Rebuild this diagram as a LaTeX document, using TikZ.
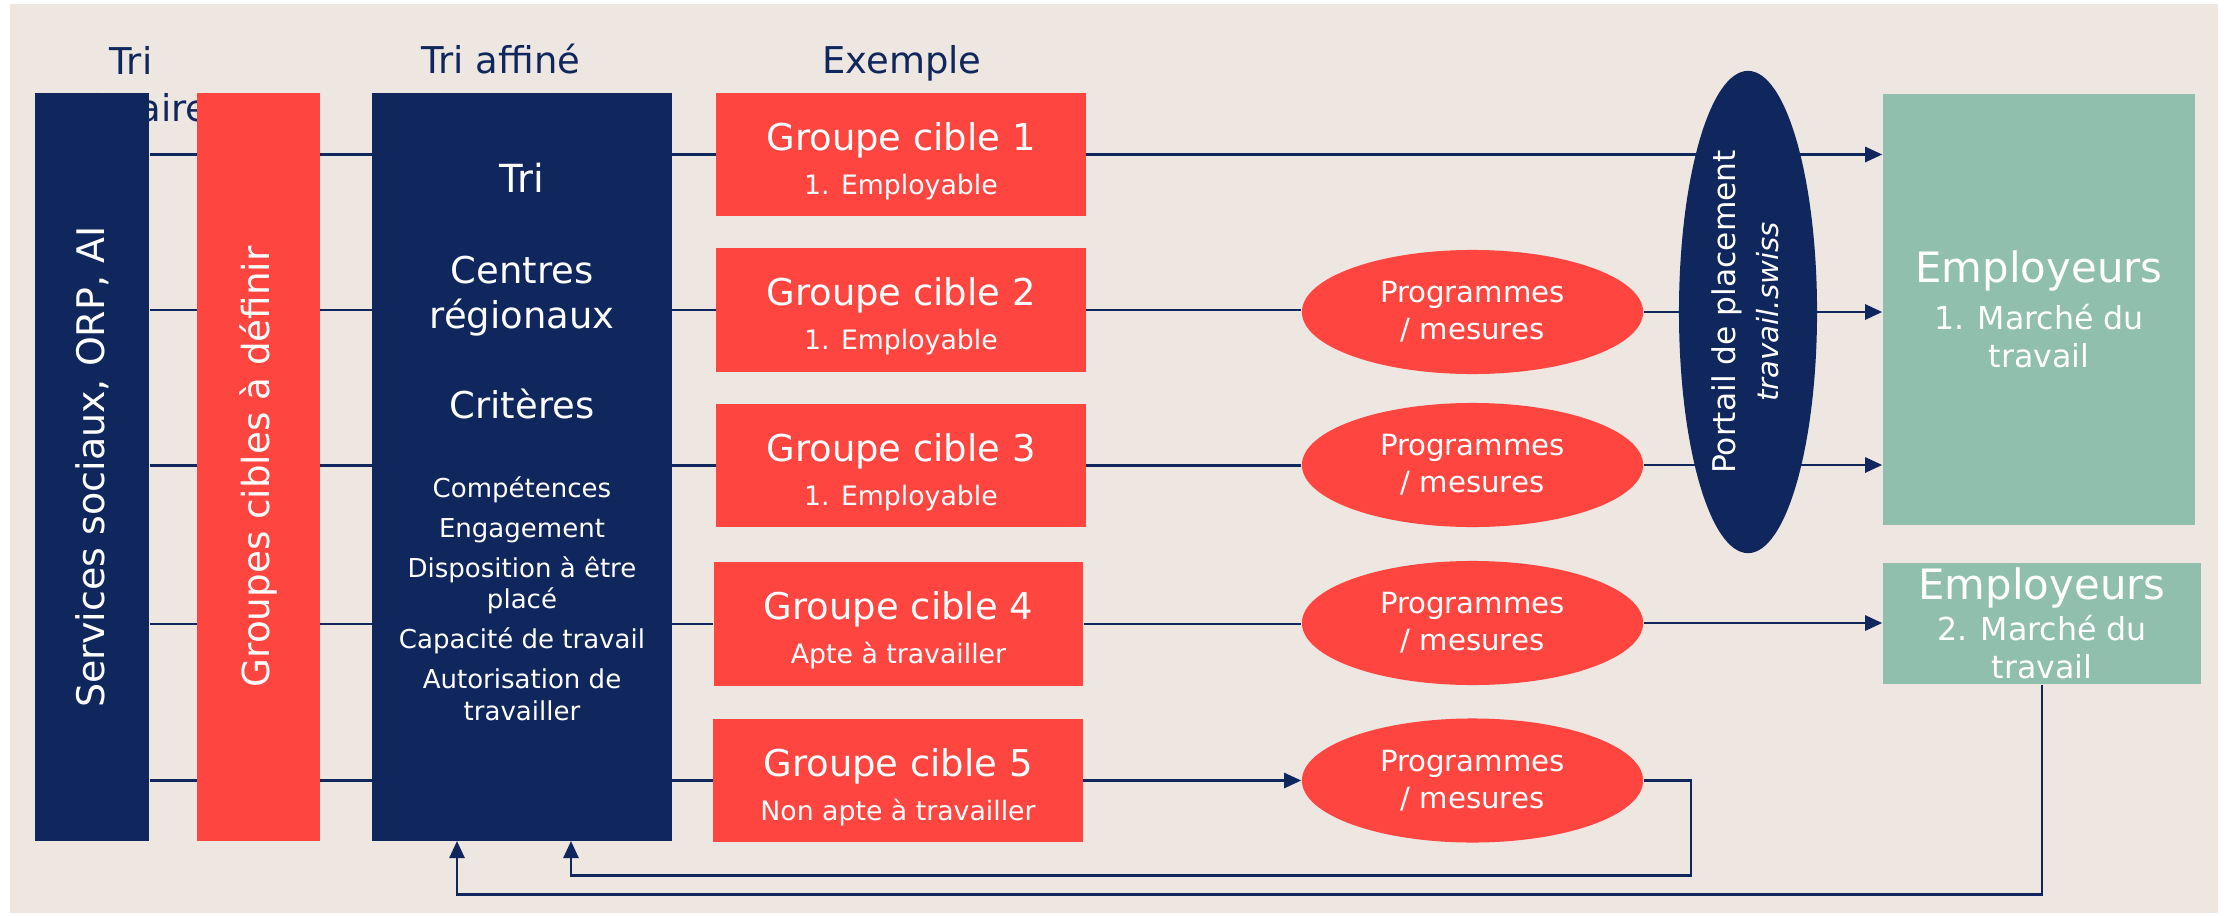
\documentclass[tikz,border=0pt]{standalone}
\usepackage{fontspec}
\setmainfont{DejaVu Sans}
\usepackage{graphicx}
\usepackage{tikz}
\usetikzlibrary{arrows.meta,shapes.geometric}

\definecolor{Navy}{HTML}{10275E}
\definecolor{Coral}{HTML}{FF4540}
\definecolor{Sage}{HTML}{90BFAE}
\definecolor{Sand}{HTML}{EEE6E0}

\newcommand\fsz[2]{\fontsize{#1}{#2}\selectfont}
\newcommand\gtitle[1]{\rule{0pt}{11.8pt}\fsz{10.5}{12.5}#1}

\pgfdeclarelayer{back}
\pgfdeclarelayer{lines}
\pgfsetlayers{back,lines,main}

\tikzset{
  bar/.style={fill=Navy,text=white,inner sep=0pt,minimum height=7.48cm},
  groupbox/.style={fill=Coral,text=white,inner sep=0pt,minimum width=3.69cm,
    minimum height=1.23cm,align=center,font=\fsz{7.6}{12.5}},
  prog/.style={ellipse,fill=Coral,text=white,inner sep=0pt,minimum width=3.41cm,
    minimum height=1.24cm,align=center,font=\fsz{8.3}{10.5}},
  empbox/.style={fill=Sage,text=white,inner sep=0pt,align=center,font=\fsz{9}{10.7}},
  flow/.style={draw=Navy,line width=0.75pt},
  arrow/.style={flow,-{Triangle[length=0.17cm,width=0.15cm]}},
  head/.style={text=Navy,anchor=base,inner sep=0pt,font=\fsz{10.5}{13.4}},
  crit/.style={text=white,anchor=base,inner sep=0pt,font=\fsz{7.4}{9}},
}

\begin{document}
\begin{tikzpicture}[x=0.01cm,y=-0.01cm]
  \useasboundingbox (0,0) rectangle (2224,915);
  \begin{pgfonlayer}{back}
    \fill[white] (0,0) rectangle (2224,915);
    \fill[Sand] (10,4) rectangle (2218,913);
  \end{pgfonlayer}

  % column headers
  \node[head,anchor=center,align=center] (hprim) at (131,87.5) {Tri\\primaire};
  \node[head] (hfine) at (501,73) {Tri affiné};
  \node[head] (hexample) at (902,73) {Exemple};

  % left columns
  \node[bar,minimum width=1.14cm,font=\fsz{10.8}{13}] (serv) at (92,467)
    {\rotatebox{90}{Services sociaux, ORP, AI}};
  \node[bar,fill=Coral,minimum width=1.23cm,font=\fsz{10.6}{13}] (groups) at (258.5,467)
    {\rotatebox{90}{Groupes cibles à définir}};
  \node[bar,minimum width=3cm] (tri) at (522,467) {};

  % texts of the refined sorting
  \node[crit,font=\fsz{11}{13}] (ttri) at (522,192) {Tri};
  \node[crit,font=\fsz{10.5}{13}] (tcentres) at (522,283) {Centres};
  \node[crit,font=\fsz{10.5}{13}] (tregion) at (522,328) {régionaux};
  \node[crit,font=\fsz{10.5}{13}] (tcrit) at (522,418) {Critères};
  \foreach \name/\yy/\txt in {comp/497/Compétences, eng/537/Engagement,
      disp/577/Disposition à être, plac/608/placé, capa/648/Capacité de travail,
      auto/688/Autorisation de, trav/720/travailler}
    \node[crit] (\name) at (522,\yy) {\txt};

  % target groups
  \node[groupbox] (gc1) at (901,154.5) {\gtitle{Groupe cible 1}\\1. Employable};
  \node[groupbox] (gc2) at (901,310) {\gtitle{Groupe cible 2}\\1. Employable};
  \node[groupbox] (gc3) at (901,465.5) {\gtitle{Groupe cible 3}\\1. Employable};
  \node[groupbox] (gc4) at (898.5,624) {\gtitle{Groupe cible 4}\\Apte à travailler};
  \node[groupbox] (gc5) at (898,780.5) {\gtitle{Groupe cible 5}\\Non apte à travailler};

  % programmes
  \node[prog] (prog2) at (1472.5,312) {Programmes\\/ mesures};
  \node[prog] (prog3) at (1472.5,465) {Programmes\\/ mesures};
  \node[prog] (prog4) at (1472.5,623) {Programmes\\/ mesures};
  \node[prog] (prog5) at (1472.5,780.5) {Programmes\\/ mesures};

  % placement portal
  \node[ellipse,fill=Navy,text=white,inner sep=0pt,minimum width=1.38cm,
    minimum height=4.82cm] (portal) at (1748,312)
    {\rotatebox{90}{\fsz{8.9}{12.2}\begin{tabular}{@{}c@{}}Portail de placement\\
      \fsz{8.3}{12.2}\itshape travail.swiss\end{tabular}}};

  % employers
  \node[empbox,minimum width=3.12cm,minimum height=4.31cm] (emp1) at (2039,309.5)
    {\fsz{11.9}{10.7}Employeurs\\[2.6pt]1. Marché du\\travail};
  \node[empbox,minimum width=3.18cm,minimum height=1.21cm] (emp2) at (2042,623.5)
    {\fsz{11.9}{10.7}Employeurs\\[0.9pt]2. Marché du\\travail};

  \coordinate (fb1) at (571,841);
  \coordinate (fb2) at (457,841);

  \begin{pgfonlayer}{lines}
    \foreach \i in {1,...,5}
      \draw[flow] (serv.east |- gc\i.west) -- (gc\i.west);
    \draw[arrow] (gc1.east) -- (gc1.east -| emp1.west);
    \foreach \i in {2,3} {
      \draw[flow] (gc\i.east) -- (gc\i.east -| prog\i.west);
      \draw[arrow] (prog\i.east) -- (prog\i.east -| emp1.west);
    }
    \draw[flow] (gc4.east) -- (gc4.east -| prog4.west);
    \draw[arrow] (prog4.east) -- (prog4.east -| emp2.west);
    \draw[arrow] (gc5.east) -- (gc5.east -| prog5.west);
    % back to the sorting
    \draw[arrow] (prog5.east) -- ++(47,0) -- ++(0,95) -| (fb1);
    \draw[arrow] (emp2.south) -- ++(0,210) -| (fb2);
  \end{pgfonlayer}
\end{tikzpicture}
\end{document}
